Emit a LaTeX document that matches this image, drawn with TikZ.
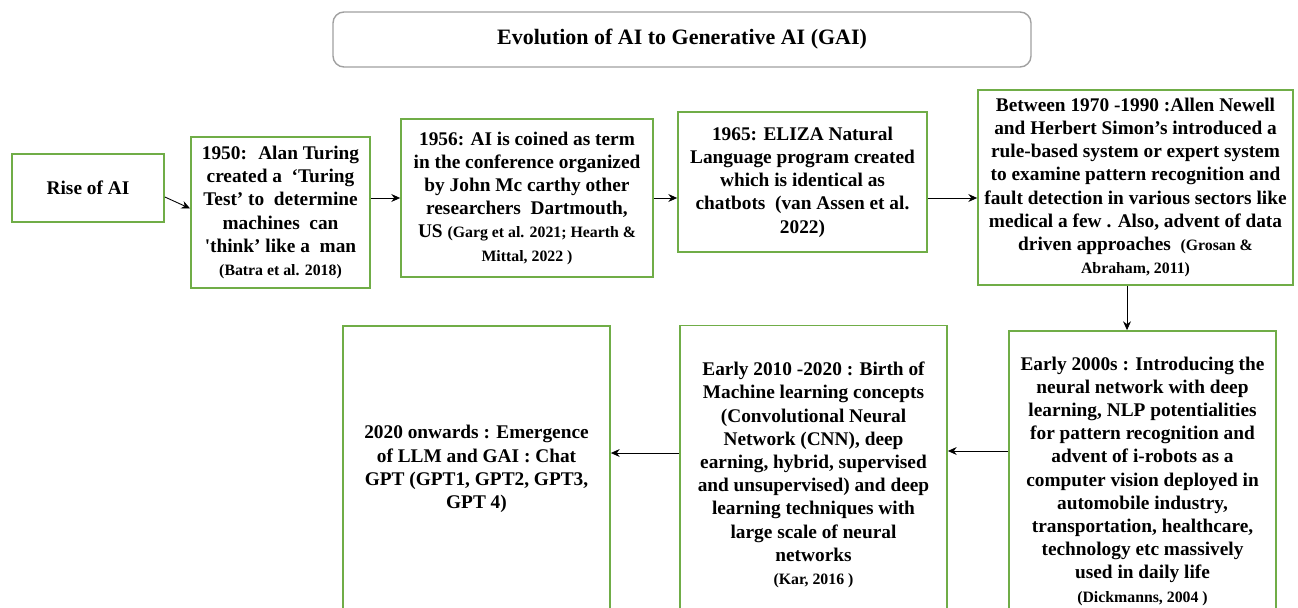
\documentclass[tikz,border=0pt]{standalone}
\usepackage{fontspec}
\setmainfont{Liberation Serif}
\usepackage{xcolor}
\usepackage{tikz}
\usetikzlibrary{arrows.meta, positioning, calc}
\definecolor{boxgreen}{RGB}{112,173,71}
\definecolor{titlegray}{RGB}{160,160,160}
\newcommand{\refsize}{\fontsize{9}{11}\selectfont}

\begin{document}
\begin{tikzpicture}[
    eventbox/.style={draw=boxgreen, line width=1pt, align=center, inner sep=1pt,
                     font=\bfseries\fontsize{11}{13.2}\selectfont},
    titlebox/.style={draw=titlegray, line width=0.8pt, rounded corners=0.22cm,
                     font=\bfseries\fontsize{12.5}{15}\selectfont},
    flowarrow/.style={-{Stealth[length=5pt,width=4.5pt]}, line width=0.5pt}]

  \useasboundingbox (0,0) rectangle (25.96,-12.16);
  \clip (0,0) rectangle (25.96,-12.16);

  %% ─── Title ────────────────────────────────────────────────────────────────
  \node[titlebox, minimum width=13.96cm, minimum height=1.1cm] (title) at (13.64,-0.79)
    {Evolution of AI to Generative AI (GAI)};

  %% ─── Top row: 1950 -- 1990 ────────────────────────────────────────────────
  \node[eventbox, minimum width=3.04cm, minimum height=1.36cm] (rise) at (1.76,-3.76)
    {Rise of AI};

  \node[eventbox, minimum width=3.58cm, minimum height=3.02cm] (t1950) at (5.61,-4.25)
    {1950:~ Alan Turing\\ created a~ ‘Turing\\ Test’ to~ determine\\ machines~ can\\
     \textquotesingle think’ like a~ man\\ {\refsize (Batra et al. 2018)}};

  \node[eventbox, minimum width=5.04cm, minimum height=3.16cm] (t1956) at (10.54,-3.96)
    {1956: AI is coined as term\\ in the conference organized\\ by John Mc carthy other\\
     researchers~ Dartmouth,\\ US {\refsize (Garg et al. 2021; Hearth \&}\\
     {\refsize Mittal, 2022 )}};

  \node[eventbox, minimum width=4.98cm, minimum height=2.8cm] (t1965) at (16.05,-3.64)
    {1965: ELIZA Natural\\ Language program created\\ which is identical as\\
     chatbots~ (van Assen et al.\\ 2022)};

  \node[eventbox, minimum width=6.3cm, minimum height=3.9cm] (t1970) at (22.71,-3.75)
    {Between 1970 -1990 :Allen Newell\\ and Herbert Simon’s introduced a\\
     rule-based system or expert system\\ to examine pattern recognition and\\
     fault detection in various sectors like\\ medical a few . Also, advent of data\\
     driven approaches~ {\refsize (Grosan \&}\\ {\refsize Abraham, 2011)}};

  %% ─── Bottom row: 2000s -- 2020 onwards (cut by the lower edge) ─────────────
  \node[eventbox, minimum width=5.34cm, minimum height=6.0cm] (t2000) at (22.85,-9.62)
    {Early 2000s : Introducing the\\ neural network with deep\\ learning, NLP potentialities\\
     for pattern recognition and\\ advent of i-robots as a\\ computer vision deployed in\\
     automobile industry,\\ transportation, healthcare,\\ technology etc massively\\
     used in daily life\\ {\refsize (Dickmanns, 2004 )}};

  \node[eventbox, minimum width=5.34cm, minimum height=5.98cm] (t2010) at (16.27,-9.5)
    {Early 2010 -2020 : Birth of\\ Machine learning concepts\\ (Convolutional Neural\\
     Network (CNN), deep\\ earning, hybrid, supervised\\ and unsupervised) and deep\\
     learning techniques with\\ large scale of neural\\ networks\\ {\refsize (Kar, 2016 )}};

  \node[eventbox, minimum width=5.34cm, minimum height=5.72cm] (t2020) at (9.53,-9.38)
    {2020 onwards : Emergence\\ of LLM and GAI : Chat\\ GPT (GPT1, GPT2, GPT3,\\ GPT 4)};

  %% ─── Connectors ───────────────────────────────────────────────────────────
  \draw[flowarrow] ([yshift=-0.18cm]rise.east) -- ([yshift=0.08cm]t1950.west);
  \draw[flowarrow] (t1950.east |- t1956.west) -- (t1956.west);
  \draw[flowarrow] (t1956.east) -- (t1956.east -| t1965.west);
  \draw[flowarrow] (t1965.east |- t1956.east) -- (t1970.west |- t1956.east);
  \draw[flowarrow] ([xshift=-0.17cm]t1970.south) -- ([xshift=-0.17cm]t1970.south |- t2000.north);
  \draw[flowarrow] ([yshift=0.6cm]t2000.west) -- ([yshift=0.6cm]t2000.west -| t2010.east);
  \draw[flowarrow] ([yshift=0.44cm]t2010.west) -- ([yshift=0.44cm]t2010.west -| t2020.east);
\end{tikzpicture}
\end{document}
